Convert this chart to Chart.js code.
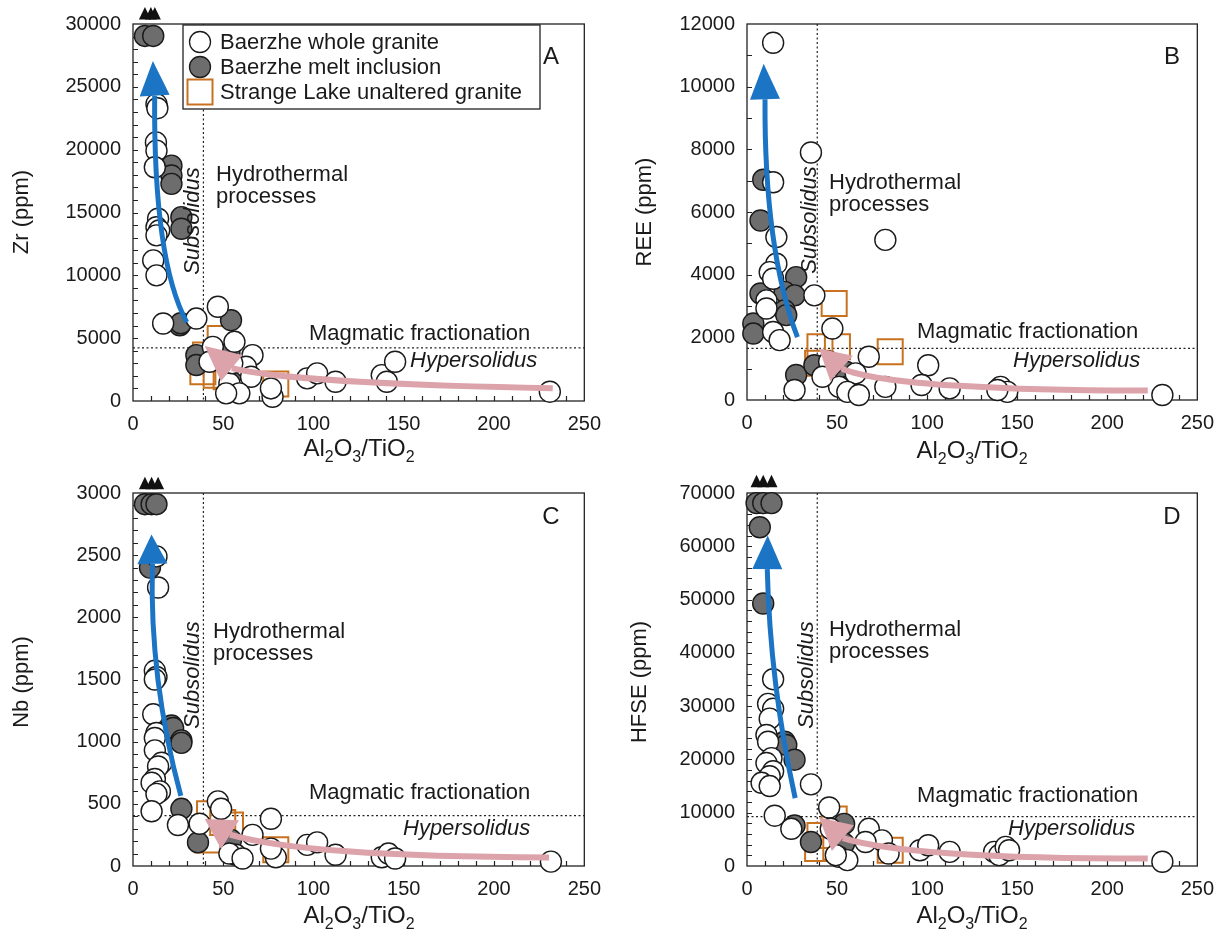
<!DOCTYPE html>
<html><head><meta charset="utf-8">
<script src="https://cdn.jsdelivr.net/npm/chart.js@4.4.0/dist/chart.umd.min.js"></script>
<style>
html,body{margin:0;padding:0;background:#fff;}
#wrap{position:relative;width:1225px;height:939px;overflow:hidden;}
canvas{position:absolute;}
</style></head><body>
<div id="wrap">
<canvas id="cA"></canvas><canvas id="cB"></canvas><canvas id="cC"></canvas><canvas id="cD"></canvas>
</div>
<script>
// ---------------- DATA (Al2O3/TiO2 vs element, ppm) ----------------
const xMin = 0, xMax = 250, xStep = 50, xMinorStep = 10;
const subsolidusX = 39;

// Panel A: Zr
const zrWhole = [[13.0,23630],[13.5,23300],[12.7,20580],[13.0,19920],[12.1,18600],[13.9,14500],[13.0,13830],[14.5,13570],[13.0,13180],[11.2,11190],[13.0,10000],[16.7,6170],[35.1,6560],[47.0,7500],[56.2,4710],[44.2,4310],[66.2,3650],[62.6,2720],[65.4,1930],[53.4,1400],[58.9,610],[51.6,610],[77.3,340],[76.4,1000],[96.5,1800],[102.0,2200],[112.2,1530],[137.8,2060],[140.6,1530],[145.2,3120],[230.9,740],[42.4,3120],[55.0,3000]];
const zrMelt = [[6.6,29050],[11.2,29050],[21.3,18730],[21.3,17940],[21.3,17280],[26.8,14630],[26.8,13710],[25.9,6030],[26.5,6190],[54.3,6430],[35.1,3650],[35.1,2860],[53.4,3810],[55.1,2220]];
const zrStrange = [[48.3,4980],[40.2,3650],[38.7,2330],[46.1,2060],[51.6,1930],[79.1,1350]];
const zrOffscale = [[6.6,30800],[9.9,30800],[12.1,30800]];
const zrMagmatic = 4230;

// Panel B: REE
const reeWhole = [[14.5,11400],[35.5,7900],[14.5,6950],[76.8,5110],[16.3,5200],[16.3,4350],[12.6,4080],[14.5,3870],[10.8,3180],[10.8,2920],[37.4,3340],[14.5,2170],[18.1,1910],[47.4,2280],[67.6,1380],[100.6,1110],[45.6,1220],[60.3,850],[51.1,420],[55.7,260],[62.1,160],[26.4,320],[41.9,740],[76.8,420],[96.9,480],[112.5,370],[140.8,420],[144.5,260],[139.0,320],[230.6,160]];
const reeMelt = [[9.0,7030],[7.5,5730],[27.3,3920],[7.5,3400],[20.9,3450],[26.4,3340],[20.9,2860],[21.8,2710],[3.5,2440],[3.5,2120],[27.3,800],[37.4,1110],[54.8,900],[54.8,640],[54.8,420]];
const reeStrange = [[48.4,3080],[40.5,1700],[50.2,1700],[79.5,1540],[39.2,1170]];
const reeOffscale = [];
const reeMagmatic = 1650;

// Panel C: Nb
const nbWhole = [[13.0,2490],[13.9,2240],[12.1,1570],[13.0,1520],[12.1,1500],[11.2,1220],[13.0,1070],[12.1,1030],[12.1,930],[15.8,830],[13.9,800],[12.1,700],[10.3,670],[14.9,600],[13.0,580],[10.3,440],[24.9,330],[47.0,520],[48.8,460],[76.4,380],[36.9,340],[66.2,250],[57.1,90],[53.4,100],[60.7,60],[79.1,70],[76.4,140],[96.5,170],[102.0,190],[112.2,90],[137.8,70],[141.5,100],[145.2,60],[231.5,35]];
const nbMelt = [[6.6,2910],[10.3,2910],[13.0,2910],[9.4,2400],[21.3,1130],[22.2,1110],[26.8,1010],[26.8,990],[26.8,460],[36.0,190],[54.3,210]];
const nbStrange = [[42.4,420],[49.7,350],[41.5,210],[79.1,130],[54.0,330]];
const nbOffscale = [[6.6,3075],[10.3,3075],[13.9,3075]];
const nbMagmatic = 405;

// Panel D: HFSE
const hfseWhole = [[14.5,35060],[11.7,30430],[14.5,29500],[12.6,27650],[10.8,24580],[11.7,23330],[13.6,20240],[10.8,19320],[14.5,17780],[12.6,16850],[8.1,15610],[12.6,15000],[35.5,15320],[15.4,9440],[45.6,10980],[24.6,6980],[46.5,6980],[67.6,6980],[74.9,4810],[65.8,4500],[51.1,1720],[55.7,1110],[49.3,2040],[96.0,2960],[100.6,3890],[112.5,2650],[137.2,2650],[140.0,2040],[143.6,3580],[78.6,2350],[230.6,800],[145.5,2960]];
const hfseMelt = [[5.3,68100],[9.0,68100],[13.6,68100],[7.1,63580],[9.0,49260],[20.9,23330],[21.8,22720],[26.4,19950],[26.4,7590],[35.5,4500],[53.9,7900],[53.9,4200]];
const hfseStrange = [[48.4,8830],[40.5,5740],[39.2,3280],[49.3,3580],[79.5,2960]];
const hfseOffscale = [[5.3,72100],[9.0,72100],[13.6,72100]];
const hfseMagmatic = 9260;

const yMaxes = {zr:30000, ree:12000, nb:3000, hfse:70000};
const yLabelSteps = {zr:5000, ree:2000, nb:500, hfse:10000};
const yMinorSteps = {zr:1000, ree:1000, nb:100, hfse:2000};
const yTitles = {zr:'Zr (ppm)', ree:'REE (ppm)', nb:'Nb (ppm)', hfse:'HFSE (ppm)'};
const legendLabels = ['Baerzhe whole granite','Baerzhe melt inclusion','Strange Lake unaltered granite'];

// ---------------- STYLE / LAYOUT ----------------
const FONT = "'Liberation Sans', Arial, Helvetica, sans-serif";
Chart.defaults.font.family = FONT;
const INK = '#1a1a1a';
const BLUE = '#1b74c4', PINK = '#dca3ab', ORANGE = '#c8721f', GRAY = '#6d6d6d';

const toXY = a => a.map(p => ({x:p[0], y:p[1]}));

function drawXTitle(ctx, cx, cy){
  const parts = [['Al',0],['2',1],['O',0],['3',1],['/TiO',0],['2',1]];
  const big = '24px '+FONT, small = '16px '+FONT;
  let w = 0;
  parts.forEach(p => { ctx.font = p[1]?small:big; w += ctx.measureText(p[0]).width; });
  let x = cx - w/2;
  ctx.textBaseline = 'alphabetic'; ctx.textAlign = 'left'; ctx.fillStyle = INK;
  parts.forEach(p => { ctx.font = p[1]?small:big; ctx.fillText(p[0], x, cy + 8 + (p[1]?6:0)); x += ctx.measureText(p[0]).width; });
}

const panelPlugin = {
  id: 'panel',
  beforeDatasetsDraw(chart, args, o){
    const {ctx, chartArea:ca, scales:{x,y}} = chart;
    ctx.save();
    ctx.setLineDash([2,2.5]); ctx.lineWidth = 1.2; ctx.strokeStyle = '#222';
    const vx = x.getPixelForValue(o.vline), hy = y.getPixelForValue(o.hline);
    ctx.beginPath(); ctx.moveTo(vx, ca.top); ctx.lineTo(vx, ca.bottom);
    ctx.moveTo(ca.left, hy); ctx.lineTo(ca.right, hy); ctx.stroke();
    ctx.setLineDash([]);
    ctx.strokeStyle = '#222'; ctx.lineWidth = 1.3;
    ctx.strokeRect(ca.left, ca.top, ca.right-ca.left, ca.bottom-ca.top);
    ctx.lineWidth = 1.2; ctx.beginPath();
    for (let v = xMinorStep; v < x.max; v += xMinorStep){ const px = Math.round(x.getPixelForValue(v))+0.5; ctx.moveTo(px, ca.bottom); ctx.lineTo(px, ca.bottom-5); }
    for (let v = o.yMinor; v < y.max; v += o.yMinor){ const py = Math.round(y.getPixelForValue(v))+0.5; ctx.moveTo(ca.left, py); ctx.lineTo(ca.left+5, py); }
    ctx.stroke();
    ctx.restore();
  },
  afterDatasetsDraw(chart, args, o){
    const {ctx, chartArea:ca, scales:{x,y}} = chart;
    const fx = f => x.getPixelForValue(x.min + f*(x.max-x.min));
    const fy = f => y.getPixelForValue(y.min + f*(y.max-y.min));
    ctx.save();
    // off-scale indicators (values above the axis maximum)
    ctx.fillStyle = '#111';
    o.offscale.forEach(p => {
      const px = x.getPixelForValue(p[0]), py = y.getPixelForValue(p[1]);
      ctx.beginPath(); ctx.moveTo(px, py-7); ctx.lineTo(px+6, py+5.5); ctx.lineTo(px-6, py+5.5); ctx.closePath(); ctx.fill();
    });
    function arrow(spec, color, lw, headW){
      const P = spec.map(p => [fx(p[0]), fy(p[1])]);
      const n = P.length, tip = P[n-1], end = P[n-2];
      ctx.strokeStyle = color; ctx.lineWidth = lw; ctx.lineCap = 'butt';
      ctx.beginPath(); ctx.moveTo(P[0][0], P[0][1]);
      if (n === 4) ctx.quadraticCurveTo(P[1][0],P[1][1],P[2][0],P[2][1]);
      else ctx.bezierCurveTo(P[1][0],P[1][1],P[2][0],P[2][1],P[3][0],P[3][1]);
      ctx.stroke();
      const dx = tip[0]-end[0], dy = tip[1]-end[1], L = Math.hypot(dx,dy), nx = -dy/L, ny = dx/L;
      ctx.fillStyle = color; ctx.beginPath();
      ctx.moveTo(tip[0], tip[1]);
      ctx.lineTo(end[0]+nx*headW/2, end[1]+ny*headW/2);
      ctx.lineTo(end[0]-nx*headW/2, end[1]-ny*headW/2);
      ctx.closePath(); ctx.fill();
    }
    arrow(o.blue, BLUE, 5, 30);
    arrow(o.pink, PINK, 6, 34);

    const T = o.text, ox = o.ox, oy = o.oy;
    ctx.fillStyle = INK; ctx.textBaseline = 'middle';
    ctx.font = '22px '+FONT; ctx.textAlign = 'left';
    ctx.fillText('Hydrothermal', T.hydro[0]-ox, T.hydro[1]-oy);
    ctx.fillText('processes', T.hydro[0]-ox, T.hydro[1]+22-oy);
    ctx.fillText('Magmatic fractionation', T.mag[0]-ox, T.mag[1]-oy);
    ctx.font = 'italic 22px '+FONT;
    ctx.fillText('Hypersolidus', T.hyper[0]-ox, T.hyper[1]-oy);
    ctx.save(); ctx.translate(T.sub[0]-ox, T.sub[1]-oy); ctx.rotate(-Math.PI/2);
    ctx.textAlign = 'center'; ctx.fillText('Subsolidus', 0, 0); ctx.restore();
    ctx.font = '24px '+FONT; ctx.textAlign = 'center';
    ctx.fillText(o.letter, T.letter[0]-ox, T.letter[1]-oy);
    // axis titles
    ctx.font = '22px '+FONT;
    ctx.save(); ctx.translate(T.ytitle[0]-ox, T.ytitle[1]-oy); ctx.rotate(-Math.PI/2);
    ctx.textAlign = 'center'; ctx.fillText(o.ytitle, 0, 0); ctx.restore();
    drawXTitle(ctx, T.xtitle[0]-ox, T.xtitle[1]-oy);

    if (o.legend){
      const L = o.legend;
      ctx.fillStyle = '#fff'; ctx.fillRect(L.box[0]-ox, L.box[1]-oy, L.box[2]-L.box[0], L.box[3]-L.box[1]);
      ctx.strokeStyle = '#222'; ctx.lineWidth = 1.3;
      ctx.strokeRect(L.box[0]-ox, L.box[1]-oy, L.box[2]-L.box[0], L.box[3]-L.box[1]);
      const mx = L.mx - ox;
      ctx.lineWidth = 1.3; ctx.strokeStyle = INK;
      ctx.beginPath(); ctx.arc(mx, L.rows[0]-oy, 10.5, 0, Math.PI*2); ctx.fillStyle = '#fff'; ctx.fill(); ctx.stroke();
      ctx.beginPath(); ctx.arc(mx, L.rows[1]-oy, 10.5, 0, Math.PI*2); ctx.fillStyle = GRAY; ctx.fill(); ctx.stroke();
      ctx.strokeStyle = ORANGE; ctx.lineWidth = 2; ctx.strokeRect(mx-12.5, L.rows[2]-oy-12.5, 25, 25);
      ctx.fillStyle = INK; ctx.font = '22px '+FONT; ctx.textAlign = 'left'; ctx.textBaseline = 'middle';
      legendLabels.forEach((t,i) => ctx.fillText(t, L.tx-ox, L.rows[i]-oy+1));
    }
    ctx.restore();
  }
};

function makeChart(id, cfg){
  const c = document.getElementById(id);
  c.width = cfg.w; c.height = cfg.h;
  c.style.left = cfg.ox+'px'; c.style.top = cfg.oy+'px';
  c.style.width = cfg.w+'px'; c.style.height = cfg.h+'px';
  const tickFont = {size:20, family:FONT};
  return new Chart(c, {
    type:'scatter',
    data:{datasets:[
      {data:toXY(cfg.whole), pointStyle:'circle', pointRadius:10.5, backgroundColor:'#fff', borderColor:INK, borderWidth:1.4, clip:false},
      {data:toXY(cfg.melt), pointStyle:'circle', pointRadius:10.5, backgroundColor:GRAY, borderColor:INK, borderWidth:1.4, clip:false},
      {data:toXY(cfg.strange), pointStyle:'rect', pointRadius:17.7, backgroundColor:'rgba(0,0,0,0)', borderColor:ORANGE, borderWidth:2, clip:false}
    ]},
    options:{
      responsive:false, animation:false, events:[],
      layout:{padding:{left:0, top:cfg.top, right:cfg.w-cfg.right, bottom:0}},
      plugins:{legend:{display:false}, tooltip:{enabled:false}, panel:cfg},
      scales:{
        x:{type:'linear', min:xMin, max:xMax,
           ticks:{stepSize:xStep, font:tickFont, color:INK, padding:11, maxRotation:0, callback:v=>String(v)},
           grid:{display:false, drawTicks:false}, border:{display:false},
           afterFit(s){ s.height = cfg.h - cfg.bottom; }},
        y:{type:'linear', min:0, max:cfg.ymax,
           ticks:{stepSize:cfg.ystep, font:tickFont, color:INK, padding:12, callback:v=>String(v)},
           grid:{display:false, drawTicks:false}, border:{display:false},
           afterFit(s){ s.width = cfg.left; }}
      }
    },
    plugins:[panelPlugin]
  });
}

makeChart('cA', {ox:0, oy:0, w:612, h:469, left:133, top:23, right:587, bottom:401,
  ymax:yMaxes.zr, ystep:yLabelSteps.zr, yMinor:yMinorSteps.zr, ytitle:yTitles.zr, letter:'A',
  whole:zrWhole, melt:zrMelt, strange:zrStrange, offscale:zrOffscale, vline:subsolidusX, hline:zrMagmatic,
  blue:[[0.119,0.209],[0.045,0.374],[0.048,0.81],[0.044,0.902]],
  pink:[[0.93,0.034],[0.632,0.040],[0.324,0.056],[0.219,0.087],[0.159,0.146]],
  text:{hydro:[216,175], sub:[193,221], mag:[309,334], hyper:[410,361], letter:[551,57], ytitle:[22,212], xtitle:[359,448]},
  legend:{box:[183,25,540,109], mx:200, tx:220, rows:[42,67,92]}});

makeChart('cB', {ox:612, oy:0, w:613, h:469, left:135, top:23, right:590, bottom:400,
  ymax:yMaxes.ree, ystep:yLabelSteps.ree, yMinor:yMinorSteps.ree, ytitle:yTitles.ree, letter:'B',
  whole:reeWhole, melt:reeMelt, strange:reeStrange, offscale:reeOffscale, vline:subsolidusX, hline:reeMagmatic,
  blue:[[0.112,0.167],[0.038,0.402],[0.04,0.80],[0.037,0.894]],
  pink:[[0.89,0.025],[0.60,0.024],[0.292,0.04],[0.21,0.084],[0.16,0.137]],
  text:{hydro:[829,183], sub:[810,220], mag:[917,332], hyper:[1013,361], letter:[1172,57], ytitle:[645,212], xtitle:[972,450]}});

makeChart('cC', {ox:0, oy:469, w:612, h:470, left:133, top:19, right:587, bottom:397,
  ymax:yMaxes.nb, ystep:yLabelSteps.nb, yMinor:yMinorSteps.nb, ytitle:yTitles.nb, letter:'C',
  whole:nbWhole, melt:nbMelt, strange:nbStrange, offscale:nbOffscale, vline:subsolidusX, hline:nbMagmatic,
  blue:[[0.106,0.188],[0.036,0.501],[0.043,0.81],[0.041,0.889]],
  pink:[[0.922,0.023],[0.632,0.024],[0.346,0.037],[0.215,0.084],[0.159,0.126]],
  text:{hydro:[213,632], sub:[193,675], mag:[309,793], hyper:[403,829], letter:[551,517], ytitle:[22,682], xtitle:[359,915]}});

makeChart('cD', {ox:612, oy:469, w:613, h:470, left:135, top:19, right:590, bottom:397,
  ymax:yMaxes.hfse, ystep:yLabelSteps.hfse, yMinor:yMinorSteps.hfse, ytitle:yTitles.hfse, letter:'D',
  whole:hfseWhole, melt:hfseMelt, strange:hfseStrange, offscale:hfseOffscale, vline:subsolidusX, hline:hfseMagmatic,
  blue:[[0.107,0.182],[0.051,0.49],[0.045,0.796],[0.046,0.886]],
  pink:[[0.89,0.02],[0.622,0.02],[0.336,0.029],[0.213,0.075],[0.16,0.13]],
  text:{hydro:[829,630], sub:[807,675], mag:[917,796], hyper:[1008,829], letter:[1172,517], ytitle:[640,682], xtitle:[972,915]}});
</script>
</body></html>
